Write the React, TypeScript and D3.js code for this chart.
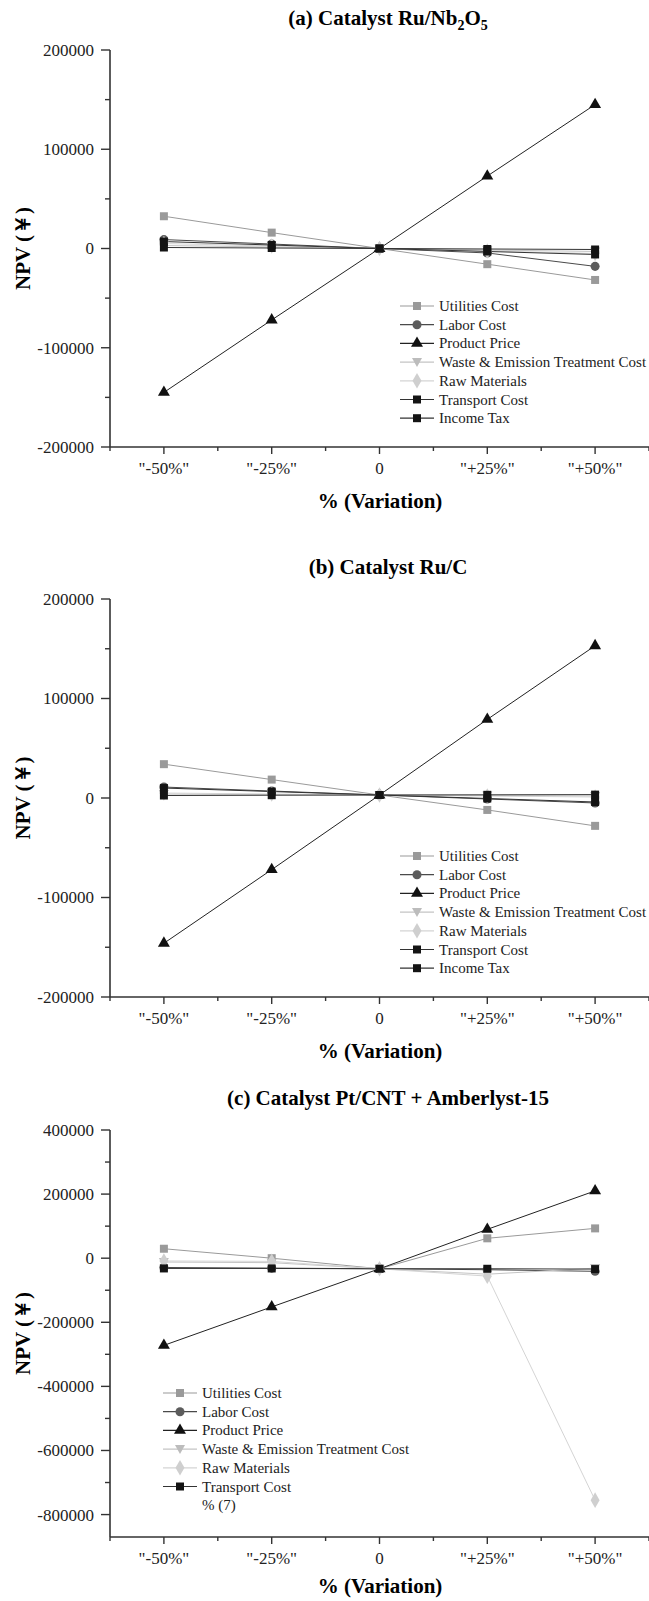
import React, { useEffect, useRef } from "react";
import * as d3 from "d3";

const categories = ['"-50%"', '"-25%"', "0", '"+25%"', '"+50%"'];
const seriesNames = [
  "Utilities Cost",
  "Labor Cost",
  "Product Price",
  "Waste & Emission Treatment Cost",
  "Raw Materials",
  "Transport Cost",
  "Income Tax",
];

// (a) Ru/Nb2O5
const utilitiesA = [32500, 16000, 0, -15800, -31700];
const laborA = [9000, 4500, 0, -4500, -18000];
const productA = [-145000, -72000, 0, 73000, 145000];
const wasteA = [3000, 1500, 0, -1500, -3000];
const rawA = [5000, 2500, 0, -2500, -5000];
const transportA = [1000, 500, 0, -500, -1000];
const incomeTaxA = [7000, 3500, 0, -3000, -6000];

// (b) Ru/C
const utilitiesB = [34000, 18500, 3000, -12000, -28000];
const laborB = [11000, 7000, 3000, -1000, -5000];
const productB = [-146000, -72000, 3000, 79000, 153000];
const wasteB = [4000, 3500, 3000, 2500, 2000];
const rawB = [5000, 4000, 3000, 2000, 1000];
const transportB = [2500, 2800, 3000, 3200, 3400];
const incomeTaxB = [10000, 6500, 3000, -500, -4000];

// (c) Pt/CNT + Amberlyst-15
const utilitiesC = [29500, 0, -33000, 62000, 93000];
const laborC = [-29000, -31000, -33000, -36000, -41000];
const productC = [-272000, -152000, -33000, 90000, 210000];
const wasteC = [-12000, -14000, -33000, -50000, -31000];
const rawC = [-8700, -10000, -33000, -56000, -755000];
const transportC = [-32000, -32000, -33000, -33000, -34000];
const legendC = [...seriesNames.slice(0, 6), "% (7)"];

const styles = [
  { color: "#9a9a9a", line: "#9a9a9a", symbol: "square" },
  { color: "#5c5c5c", line: "#4a4a4a", symbol: "circle" },
  { color: "#111111", line: "#222222", symbol: "triangle" },
  { color: "#bcbcbc", line: "#c4c4c4", symbol: "down" },
  { color: "#cfcfcf", line: "#d4d4d4", symbol: "diamond" },
  { color: "#141414", line: "#333333", symbol: "square" },
  { color: "#141414", line: "#333333", symbol: "square" },
];

const panels = [
  {
    title: ["(a) Catalyst Ru/Nb", "2", "O", "5"],
    top: 50,
    bottom: 447,
    domain: [-200000, 200000],
    major: 100000,
    series: [utilitiesA, laborA, productA, wasteA, rawA, transportA, incomeTaxA],
    legend: seriesNames,
    legendX: 400,
    legendY: 306,
    xTitleGap: 61,
  },
  {
    title: ["(b) Catalyst Ru/C"],
    top: 599,
    bottom: 997,
    domain: [-200000, 200000],
    major: 100000,
    series: [utilitiesB, laborB, productB, wasteB, rawB, transportB, incomeTaxB],
    legend: seriesNames,
    legendX: 400,
    legendY: 856,
    xTitleGap: 61,
  },
  {
    title: ["(c) Catalyst Pt/CNT + Amberlyst-15"],
    top: 1130,
    bottom: 1537,
    domain: [-870000, 400000],
    major: 200000,
    series: [utilitiesC, laborC, productC, wasteC, rawC, transportC],
    legend: legendC,
    legendX: 163,
    legendY: 1393,
    xTitleGap: 56,
  },
];

const width = 649;
const height = 1601;
const font = "Liberation Serif, Times New Roman, serif";

const symbolPath = (kind: string) => {
  if (kind === "circle") return d3.symbol(d3.symbolCircle, 64)();
  if (kind === "triangle") return d3.symbol(d3.symbolTriangle, 62)();
  if (kind === "down") return "M-5,-4L5,-4L0,5Z";
  if (kind === "diamond") return d3.symbol(d3.symbolDiamond, 70)();
  return d3.symbol(d3.symbolSquare, 64)();
};

const App = () => {
  const ref = useRef<SVGSVGElement>(null);

  useEffect(() => {
    const svg = d3.select(ref.current);
    svg.selectAll("*").remove();
    svg.attr("width", width).attr("height", height).attr("font-family", font);
    svg.append("rect").attr("width", width).attr("height", height).attr("fill", "#fff");

    const left = 110;
    const x = d3.scaleLinear().domain([0.5, 5.5]).range([left, width]);

    panels.forEach((p) => {
      const g = svg.append("g").attr("font-family", font);
      const y = d3.scaleLinear().domain(p.domain).range([p.bottom, p.top]);

      // title
      const t = g
        .append("text")
        .attr("x", 388)
        .attr("y", p.top - 25)
        .attr("text-anchor", "middle")
        .attr("font-size", 21)
        .attr("font-weight", "bold");
      p.title.forEach((s, i) => {
        const ts = t.append("tspan").text(s);
        if (i % 2 === 1) ts.attr("font-size", 14).attr("dy", 5);
        else if (i > 0) ts.attr("dy", -5);
      });

      // y axis
      const yMajors = d3.range(
        Math.ceil(p.domain[0] / p.major) * p.major,
        p.domain[1] + 1,
        p.major
      );
      const yMinors = d3
        .range(Math.ceil(p.domain[0] / (p.major / 2)) * (p.major / 2), p.domain[1] + 1, p.major / 2)
        .filter((v) => !yMajors.includes(v));

      g.append("line")
        .attr("x1", left)
        .attr("x2", left)
        .attr("y1", p.top)
        .attr("y2", p.bottom)
        .attr("stroke", "#333")
        .attr("stroke-width", 1.6);
      g.selectAll(".ymaj")
        .data(yMajors)
        .enter()
        .append("line")
        .attr("x1", left - 9)
        .attr("x2", left)
        .attr("y1", (d) => y(d))
        .attr("y2", (d) => y(d))
        .attr("stroke", "#333")
        .attr("stroke-width", 1.4);
      g.selectAll(".ymin")
        .data(yMinors)
        .enter()
        .append("line")
        .attr("x1", left - 5)
        .attr("x2", left)
        .attr("y1", (d) => y(d))
        .attr("y2", (d) => y(d))
        .attr("stroke", "#333")
        .attr("stroke-width", 1.4);
      g.selectAll(".ylab")
        .data(yMajors)
        .enter()
        .append("text")
        .attr("x", left - 16)
        .attr("y", (d) => y(d))
        .attr("dy", "0.35em")
        .attr("text-anchor", "end")
        .attr("font-size", 17)
        .attr("fill", "#222")
        .text((d) => String(d));

      g.append("text")
        .attr("transform", `translate(30,${(p.top + p.bottom) / 2}) rotate(-90)`)
        .attr("text-anchor", "middle")
        .attr("font-size", 21)
        .attr("font-weight", "bold")
        .text("NPV (￥)");

      // x axis
      g.append("line")
        .attr("x1", left)
        .attr("x2", width)
        .attr("y1", p.bottom)
        .attr("y2", p.bottom)
        .attr("stroke", "#333")
        .attr("stroke-width", 1.6);
      g.selectAll(".xmaj")
        .data(categories)
        .enter()
        .append("line")
        .attr("x1", (_d, i) => x(i + 1))
        .attr("x2", (_d, i) => x(i + 1))
        .attr("y1", p.bottom)
        .attr("y2", p.bottom + 7)
        .attr("stroke", "#333")
        .attr("stroke-width", 1.4);
      g.selectAll(".xmin")
        .data(d3.range(0.5, 6, 1))
        .enter()
        .append("line")
        .attr("x1", (d) => x(d))
        .attr("x2", (d) => x(d))
        .attr("y1", p.bottom)
        .attr("y2", p.bottom + 4)
        .attr("stroke", "#333")
        .attr("stroke-width", 1.4);
      g.selectAll(".xlab")
        .data(categories)
        .enter()
        .append("text")
        .attr("x", (_d, i) => x(i + 1))
        .attr("y", p.bottom + 27)
        .attr("text-anchor", "middle")
        .attr("font-size", 17)
        .attr("fill", "#222")
        .text((d) => d);
      g.append("text")
        .attr("x", 380)
        .attr("y", p.bottom + p.xTitleGap)
        .attr("text-anchor", "middle")
        .attr("font-size", 21)
        .attr("font-weight", "bold")
        .text("% (Variation)");

      // series
      const line = d3
        .line<number>()
        .x((_d, i) => x(i + 1))
        .y((d) => y(d));
      p.series.forEach((vals, si) => {
        const st = styles[si];
        g.append("path")
          .attr("d", line(vals))
          .attr("fill", "none")
          .attr("stroke", st.line)
          .attr("stroke-width", 1);
      });
      p.series.forEach((vals, si) => {
        const st = styles[si];
        g.selectAll(`.m${si}`)
          .data(vals)
          .enter()
          .append("path")
          .attr("d", symbolPath(st.symbol))
          .attr("transform", (d, i) => `translate(${x(i + 1)},${y(d)})`)
          .attr("fill", st.color);
      });

      // legend
      p.legend.forEach((name, i) => {
        const ly = p.legendY + i * 18.7;
        if (i < p.series.length) {
          const st = styles[i];
          g.append("line")
            .attr("x1", p.legendX)
            .attr("x2", p.legendX + 34)
            .attr("y1", ly)
            .attr("y2", ly)
            .attr("stroke", st.line)
            .attr("stroke-width", 1.2);
          g.append("path")
            .attr("d", symbolPath(st.symbol))
            .attr("transform", `translate(${p.legendX + 17},${ly})`)
            .attr("fill", st.color);
        }
        g.append("text")
          .attr("x", p.legendX + 39)
          .attr("y", ly + 5)
          .attr("font-size", 15)
          .attr("fill", "#222")
          .text(name);
      });
    });
  }, []);

  return <svg ref={ref} style={{ position: "absolute", left: 0, top: 0 }}></svg>;
};

export default App;
